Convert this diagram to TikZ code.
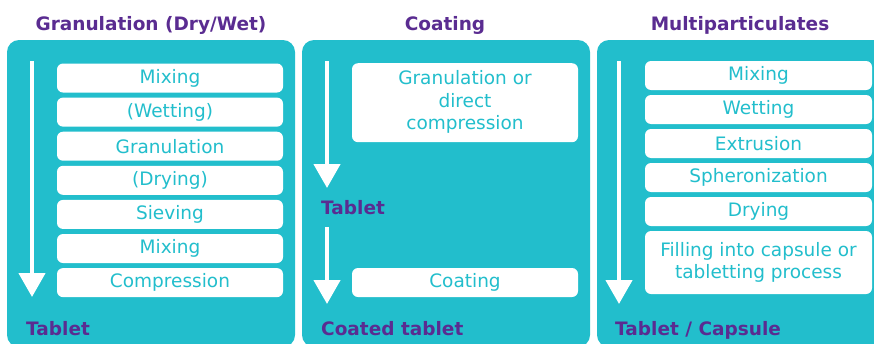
\documentclass[tikz,border=0pt]{standalone}
\usepackage{fontspec}
\setmainfont{DejaVu Sans}
\usetikzlibrary{arrows.meta}
\definecolor{teal}{RGB}{34,190,204}
\definecolor{purp}{RGB}{90,44,145}
\tikzset{
  panel/.style={fill=teal, draw=none, rounded corners=12pt},
  stepbox/.style={fill=white, draw=none, rounded corners=6pt, text=teal,
    font=\fontsize{18.5}{22.5}\selectfont, align=center, inner sep=0pt},
  ttl/.style={text=purp, font=\bfseries\fontsize{18.5}{22}\selectfont, inner sep=0pt},
  flow/.style={draw=white, line width=4.5pt, -{Triangle[width=26pt,length=24pt]}},
}
\begin{document}
\begin{tikzpicture}[x=1pt,y=-1pt]
\useasboundingbox (0,0) rectangle (874,343);
\clip (0,0) rectangle (874,343);
% panels
\path[panel] (7,40) rectangle (295,347);
\path[panel] (302,40) rectangle (590,347);
\path[panel] (597,40) rectangle (892,347);
% titles
\node[ttl, anchor=base] (t1) at (151,30) {Granulation (Dry/Wet)};
\node[ttl, anchor=base] (t2) at (445,30) {Coating};
\node[ttl, anchor=base] (t3) at (740,30) {Multiparticulates};
% panel 1 steps
\foreach \n/\y/\txt in {g1/78.0/Mixing, g2/112.1/(Wetting), g3/146.2/Granulation, g4/180.3/(Drying), g5/214.4/Sieving, g6/248.5/Mixing, g7/282.6/Compression}
  \node[stepbox, minimum width=226pt, minimum height=29pt] (\n) at (170,\y) {\txt};
% panel 2 steps
\node[stepbox, minimum width=226pt, minimum height=79pt, anchor=north] (c1) at (465,63) {\strut Granulation or\\ direct\\ compression\strut};
\node[stepbox, minimum width=226pt, minimum height=29pt] (c2) at (465,282.5) {Coating};
% panel 3 steps
\foreach \n/\y/\txt in {m1/75.5/Mixing, m2/109.5/Wetting, m3/143.5/Extrusion, m4/177.5/Spheronization, m5/211.5/Drying}
  \node[stepbox, minimum width=227pt, minimum height=29pt] (\n) at (758.5,\y) {\txt};
\node[stepbox, minimum width=227pt, minimum height=63pt] (m6) at (758.5,262.5) {Filling into capsule or\\ tabletting process};
% outputs
\node[ttl, anchor=base west] (o1) at (26,335) {Tablet};
\node[ttl, anchor=base west] (o2a) at (321,214) {Tablet};
\node[ttl, anchor=base west] (o2) at (321,335) {Coated tablet};
\node[ttl, anchor=base west] (o3) at (615,335) {Tablet / Capsule};
% arrows
\coordinate (a1s) at (32,61);   \coordinate (a1e) at (32,297);
\coordinate (a2s) at (327,61);  \coordinate (a2e) at (327,188);
\coordinate (a3s) at (327,227); \coordinate (a3e) at (327,304);
\coordinate (a4s) at (619,61);  \coordinate (a4e) at (619,304);
\draw[flow] (a1s) -- (a1e);
\draw[flow] (a2s) -- (a2e);
\draw[flow] (a3s) -- (a3e);
\draw[flow] (a4s) -- (a4e);
\end{tikzpicture}
\end{document}
